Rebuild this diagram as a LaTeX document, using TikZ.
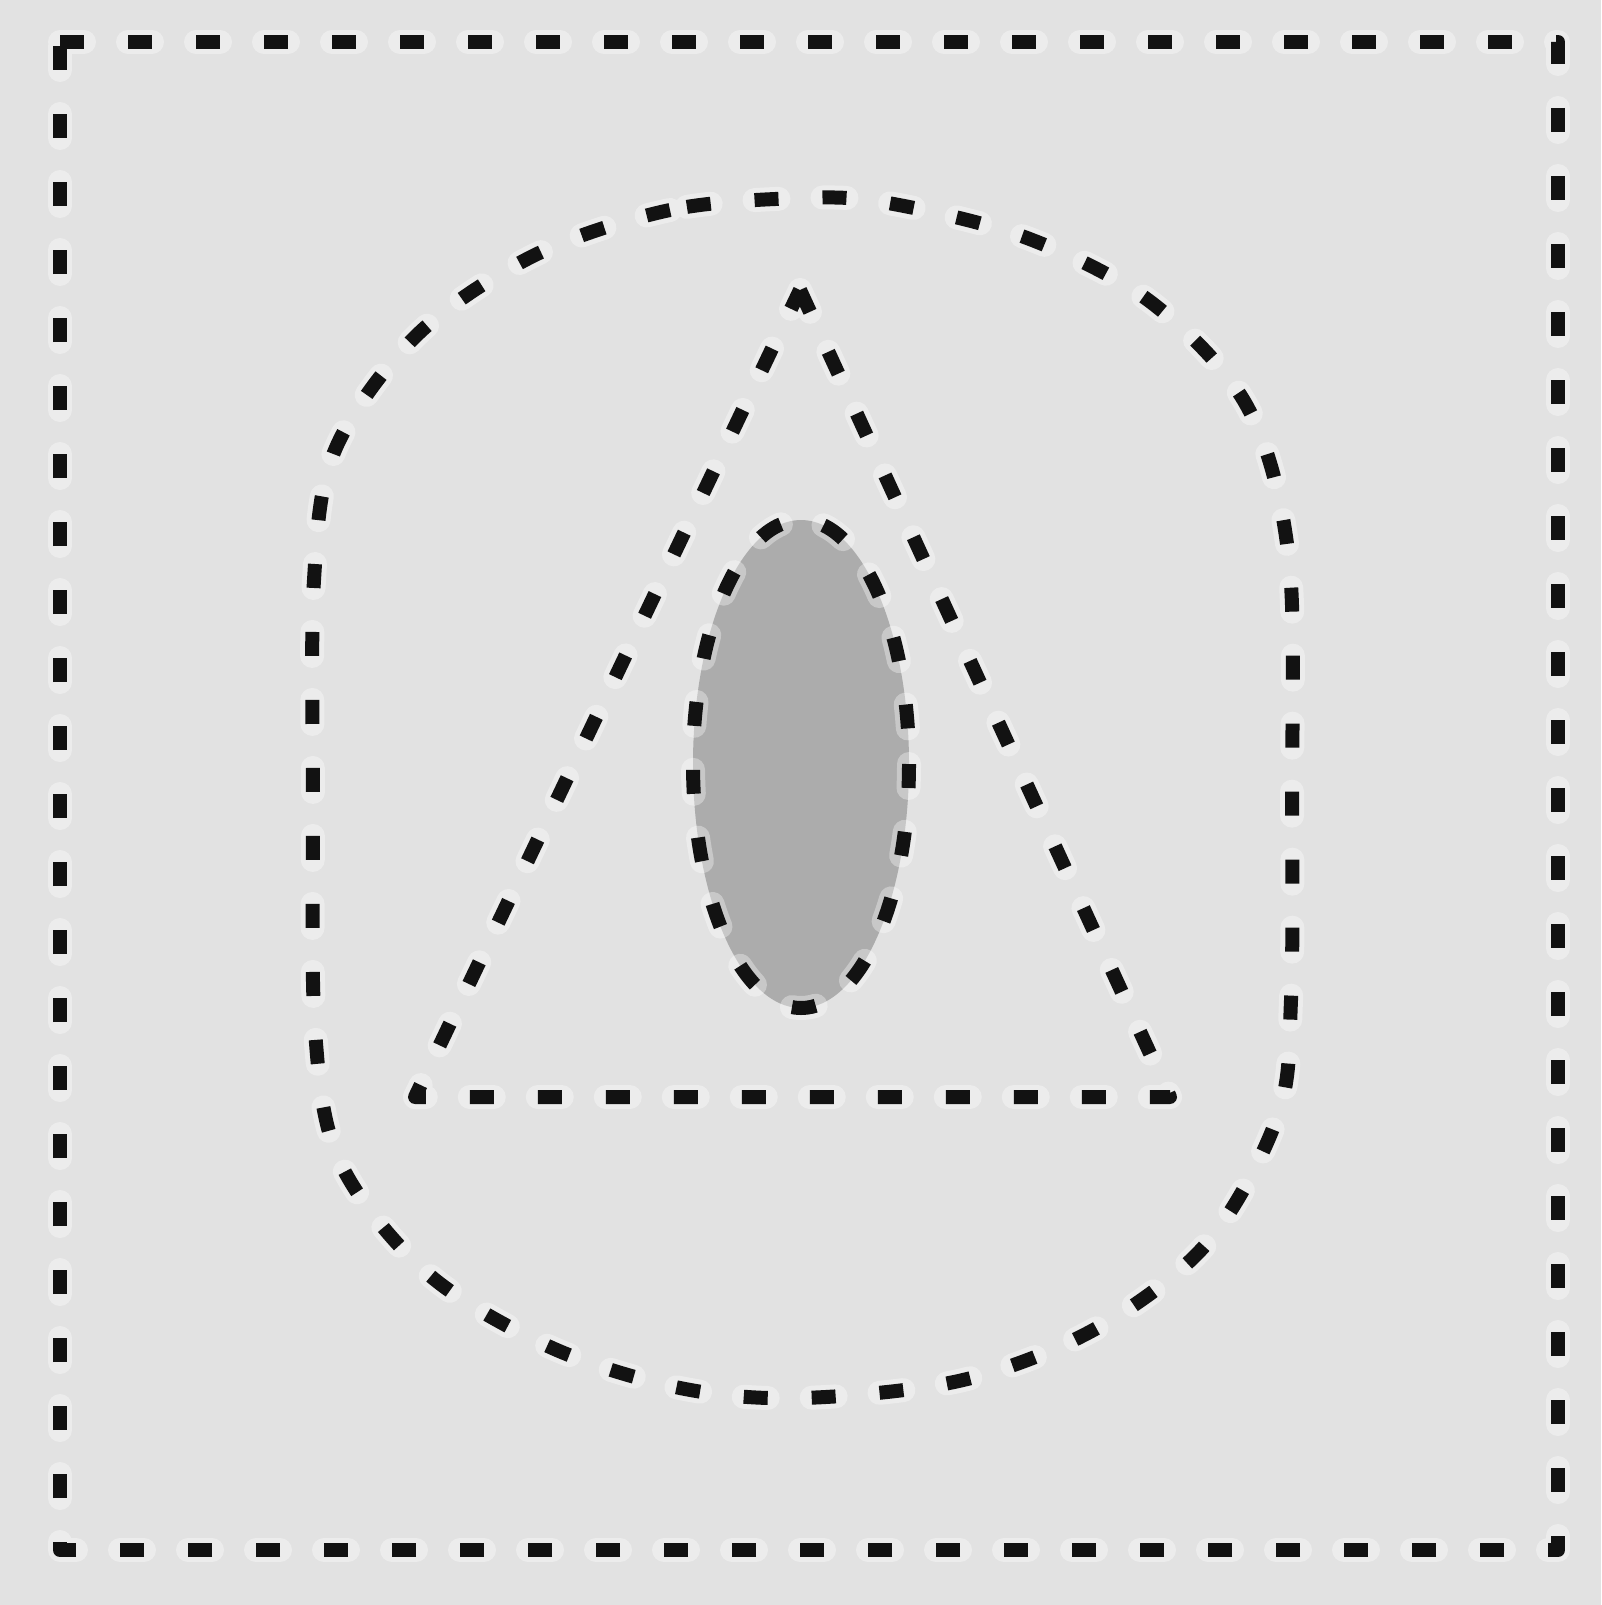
\documentclass[tikz,border=0pt]{standalone}
\definecolor{bgc}{RGB}{226,226,226}
\definecolor{fillc}{RGB}{172,172,172}
\definecolor{inkc}{RGB}{18,18,18}
\tikzset{
  halo/.style={draw=white, draw opacity=0.35, line width=24pt, line cap=round, line join=round, dash pattern=on 24pt off 44pt},
  ink/.style={draw=inkc, line width=14pt, line cap=butt, line join=round, dash pattern=on 24pt off 44pt},
}
\begin{document}
\begin{tikzpicture}[x=1pt,y=-1pt]
\useasboundingbox (0,0) rectangle (1601,1605);
\fill[bgc] (0,0) rectangle (1601,1605);
% outer square
\def\sq{(60,42) -- (1558,42) -- (1558,1550) -- (60,1550) -- cycle}
\path[halo] \sq;
\path[ink] \sq;
% rounded outer shape
\def\blob{plot[smooth cycle, tension=0.55] coordinates {(802,198) (670,210) (535,255) (417,335) (335,450) (314,580) (313,800) (315,1030) (340,1162) (427,1273) (550,1347) (680,1388) (802,1398) (963,1380) (1097,1328) (1208,1242) (1278,1115) (1291,1000) (1292,800) (1289,560) (1248,408) (1152,303) (1027,238) (888,203)}}
\path[halo] \blob;
\path[ink] \blob;
% triangle
\def\tri{(800,290) -- (1170,1097) -- (415,1097) -- cycle}
\path[halo] \tri;
\path[ink] \tri;
% filled ellipse
\fill[fillc] (801,764) ellipse [x radius=108, y radius=244];
\path[halo] (801,764) ellipse [x radius=108, y radius=244];
\path[ink] (801,764) ellipse [x radius=108, y radius=244];
\end{tikzpicture}
\end{document}
